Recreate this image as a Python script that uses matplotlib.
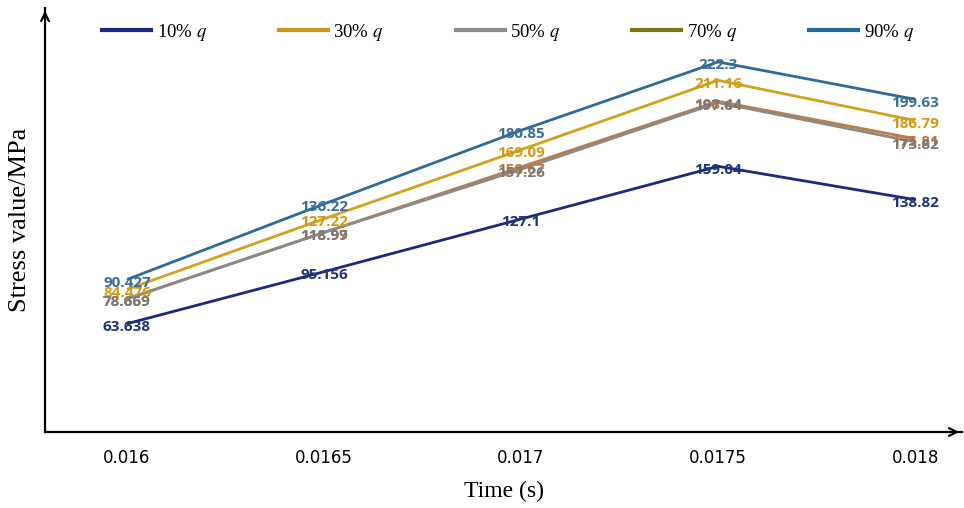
import matplotlib
matplotlib.use("Agg")
import matplotlib.pyplot as plt
from matplotlib.lines import Line2D

plt.rcParams["mathtext.fontset"] = "stix"

times = [0.016, 0.0165, 0.017, 0.0175, 0.018]
tick_labels = ["0.016", "0.0165", "0.017", "0.0175", "0.018"]

q10 = [63.638, 95.156, 127.1, 159.04, 138.82]
q30 = [84.476, 127.22, 169.09, 211.16, 186.79]
q50 = [78.669, 118.99, 157.26, 197.64, 173.82]
q70 = [78.669, 118.97, 158.67, 198.44, 175.81]
q90 = [90.427, 136.22, 180.85, 222.3, 199.63]

series_names = ["10% $q$", "30% $q$", "50% $q$", "70% $q$", "90% $q$"]

# (line colour, label colour, legend colour)
styles = [
    ("#1b2a80", "#1f3577", "#1b2a80"),
    ("#d1a21c", "#d49a14", "#c9991a"),
    ("#8a8a8a", "#7a7a7a", "#8a8a8a"),
    ("#c07c45", "#c2773a", "#7d7712"),
    ("#2f6b95", "#3a6d98", "#1f6d94"),
]

fig = plt.figure(figsize=(9.64, 5.08), dpi=100)
ax = fig.add_axes([45 / 964, 76 / 508, 917 / 964, 424 / 508])

all_series = [q10, q30, q70, q50, q90]
order_styles = [styles[0], styles[1], styles[3], styles[2], styles[4]]
for vals, (lc, tc, _) in zip(all_series, order_styles):
    ax.plot(times, vals, color=lc, lw=2.0, solid_capstyle="butt")

label_font = dict(family=["Open Sans", "DejaVu Sans"], fontweight="bold", fontsize=11)
for vals, (lc, tc, _) in zip(all_series, order_styles):
    for t, v in zip(times, vals):
        ax.text(t, v - 2, f"{v:g}", color=tc, ha="center", va="center", **label_font)

ax.set_xlim(0.015792, 0.018119)
ax.set_ylim(-2, 255)
ax.set_xticks(times)
ax.set_xticklabels(tick_labels, family=["Liberation Sans Narrow", "DejaVu Sans"], fontsize=12)
ax.tick_params(axis="x", length=0, pad=12)
ax.set_yticks([])

for s in ["top", "right"]:
    ax.spines[s].set_visible(False)
ax.spines["left"].set_linewidth(1.6)
ax.spines["bottom"].set_linewidth(1.6)

# arrow heads at the ends of the axes
ax.annotate("", xy=(1.0, 0), xytext=(0.985, 0), xycoords="axes fraction",
            arrowprops=dict(arrowstyle="->", color="black", lw=1.6, mutation_scale=14))
ax.annotate("", xy=(0, 1.0), xytext=(0, 0.97), xycoords="axes fraction",
            arrowprops=dict(arrowstyle="->", color="black", lw=1.6, mutation_scale=14))

ax.set_xlabel("Time (s)", family="Liberation Serif", fontsize=17, labelpad=10)
ax.set_ylabel("Stress value/MPa", family="Liberation Serif", fontsize=19, labelpad=10)

handles = [Line2D([0], [0], color=lg, lw=3) for (_, _, lg) in styles]
fig.legend(handles, series_names, loc="center", bbox_to_anchor=(0.527, 0.937), ncol=5,
           frameon=False, handlelength=2.6, columnspacing=3.85, handletextpad=0.3,
           prop=dict(family="Liberation Serif", size=13.5))

fig.savefig("out.png", dpi=100)
